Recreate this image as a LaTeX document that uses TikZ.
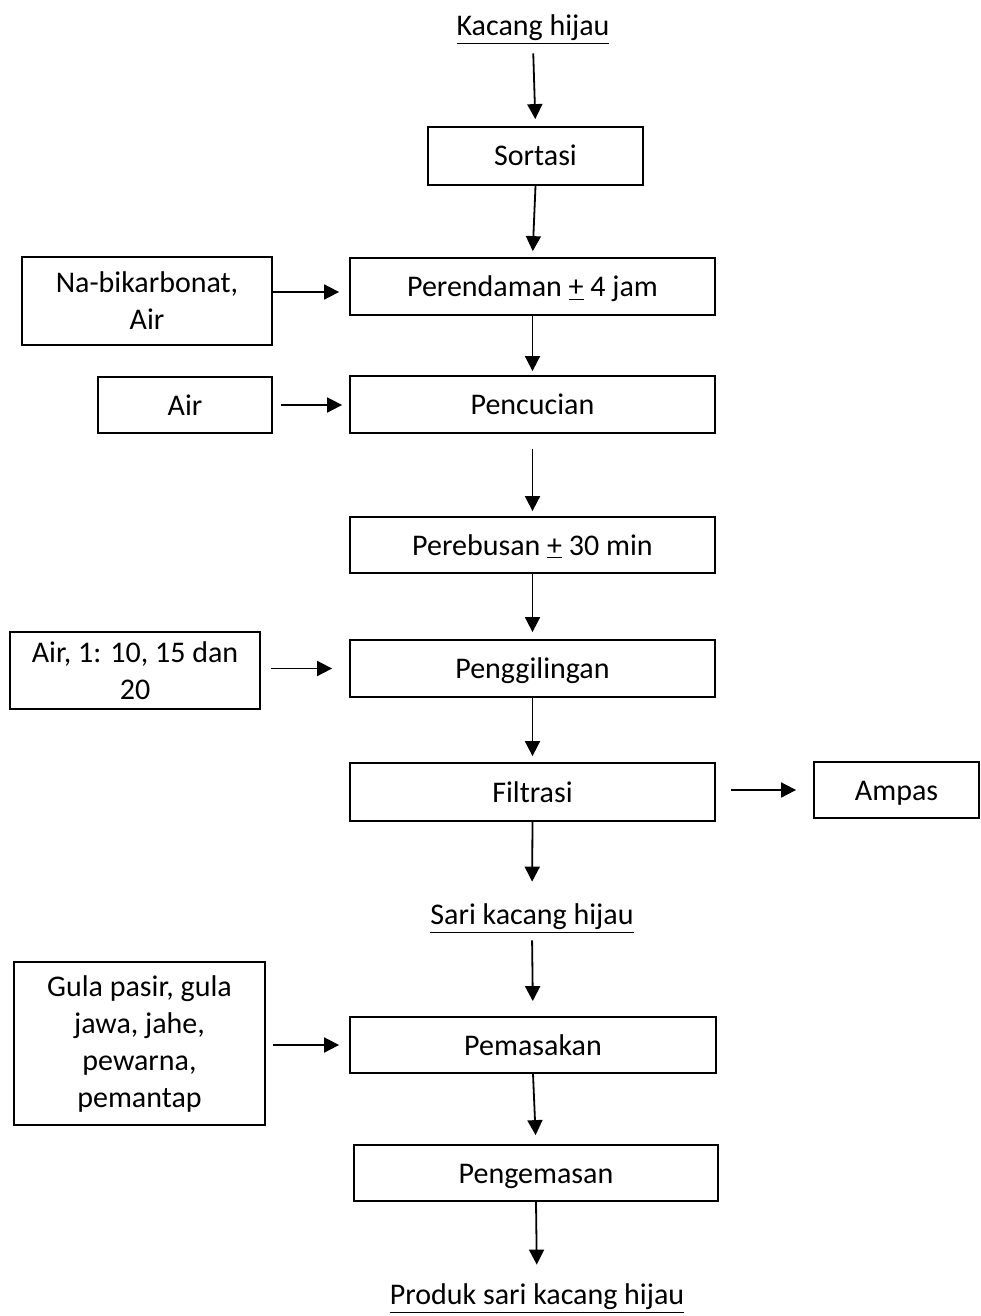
\documentclass[tikz,border=0pt]{standalone}
\usepackage{fontspec}
\setmainfont{Carlito}
\usepackage{tikz}
\usetikzlibrary{arrows.meta, positioning}

\begin{document}
\begin{tikzpicture}[
            x=0.5pt, y=-0.5pt,
            every node/.style={font=\fontsize{15}{18.5}\selectfont, align=center},
            box/.style={rectangle, draw=black, line width=0.9pt, inner sep=2pt, minimum height=28.5pt, minimum width=182.5pt},
            single/.style={text height=10pt, text depth=0pt},
            label/.style={inner sep=0pt},
            arrow/.style={-{Triangle[length=7.5pt, width=7.5pt]}, line width=0.9pt, draw=black}
        ]
            \useasboundingbox (0,0) rectangle (980,1316);
            % main line
            \node[label] (kacang) at (533,30) {\underline{Kacang hijau}};
            \node[box, single, minimum width=107.5pt, minimum height=29pt] (sortasi) at (535.5,156) {Sortasi};
            \node[box, single] (rendam) at (532.5,286.5) {Perendaman \underline{+} 4 jam};
            \node[box, single] (cuci) at (532.5,404.5) {Pencucian};
            \node[box, single, minimum height=28pt] (rebus) at (532.5,545) {Perebusan \underline{+} 30 min};
            \node[box, single] (giling) at (532.5,668.5) {Penggilingan};
            \node[box, single, minimum height=29pt] (filtrasi) at (532.5,792) {Filtrasi};
            \node[label] (sari) at (532,919) {\underline{Sari kacang hijau}};
            \node[box, single, minimum width=183pt, minimum height=28pt] (masak) at (533,1045) {Pemasakan};
            \node[box, single, minimum width=182pt, minimum height=28pt] (kemas) at (536,1173) {Pengemasan};
            \node[label] (produk) at (537,1299) {\underline{Produk sari kacang hijau}};
            % side inputs and output
            \node[box, minimum width=125pt, minimum height=44pt] (nabik) at (147,301) {Na-bikarbonat,\\Air};
            \node[box, single, minimum width=87pt, minimum height=28pt] (air) at (185,405) {Air};
            \node[box, minimum width=125pt, minimum height=38.5pt] (airgiling) at (135,670.5) {Air, 1: 10, 15 dan\\20};
            \node[box, single, minimum width=82.5pt, minimum height=28pt] (ampas) at (896.5,790) {Ampas};
            \node[box, minimum width=125.5pt, minimum height=81.5pt] (gula) at (139.5,1043.5) {Gula pasir, gula\\jawa, jahe,\\pewarna,\\pemantap};

            \draw[arrow, shorten <=4pt, shorten >=3.5pt] (kacang.south) -- (sortasi.north);
            \draw[arrow, shorten >=3pt] (sortasi.south) -- (rendam.north);
            \draw[arrow, shorten >=2pt] (rendam.south) -- (cuci.north);
            \draw[arrow, shorten <=7.5pt, shorten >=2.5pt] (cuci.south) -- (rebus.north);
            \draw[arrow, shorten >=3.5pt] (rebus.south) -- (giling.north);
            \draw[arrow, shorten >=3pt] (giling.south) -- (filtrasi.north);
            \draw[arrow, shorten >=11pt] (filtrasi.south) -- (sari.north);
            \draw[arrow, shorten <=3pt, shorten >=7.5pt] (sari.south) -- (masak.north);
            \draw[arrow, shorten >=4.5pt] (masak.south) -- (kemas.north);
            \draw[arrow, shorten >=9.5pt] (kemas.south) -- (produk.north);

            \draw[arrow, shorten >=5pt] ([yshift=4.5pt]nabik.east) -- ([yshift=4.5pt]nabik.east -| rendam.west);
            \draw[arrow, shorten <=4pt, shorten >=3.5pt] (air.east) -- (air.east -| cuci.west);
            \draw[arrow, shorten <=5pt, shorten >=8.5pt] (airgiling.east |- giling) -- (giling.west);
            \draw[arrow, shorten <=7.5pt, shorten >=8.5pt] (filtrasi.east |- ampas) -- (ampas.west);
            \draw[arrow, shorten <=3.5pt, shorten >=5pt] (gula.east |- masak) -- (masak.west);
        \end{tikzpicture}
\end{document}
